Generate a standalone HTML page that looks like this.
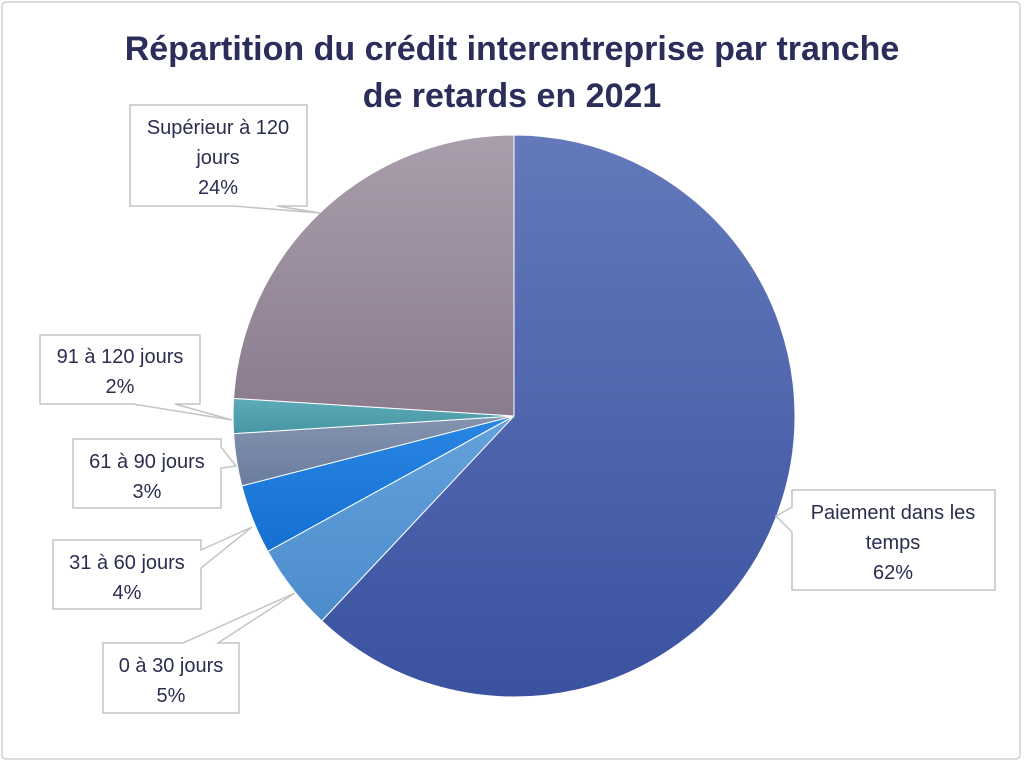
<!DOCTYPE html>
<html><head><meta charset="utf-8"><style>
html,body{margin:0;padding:0;background:#fff;}
svg{display:block;}
text{font-family:"Liberation Sans",sans-serif;}
</style></head><body>
<svg width="1024" height="762" viewBox="0 0 1024 762" xmlns="http://www.w3.org/2000/svg">
<defs>
<linearGradient id="g1" x1="0" y1="0" x2="0" y2="1"><stop offset="0" stop-color="#6479bb"/><stop offset="1" stop-color="#3a52a0"/></linearGradient>
<linearGradient id="g2" x1="0" y1="0" x2="0" y2="1"><stop offset="0" stop-color="#63a2dc"/><stop offset="1" stop-color="#4d8ccc"/></linearGradient>
<linearGradient id="g3" x1="0" y1="0" x2="0" y2="1"><stop offset="0" stop-color="#2a86e4"/><stop offset="1" stop-color="#1470d0"/></linearGradient>
<linearGradient id="g4" x1="0" y1="0" x2="0" y2="1"><stop offset="0" stop-color="#8494b0"/><stop offset="1" stop-color="#6a7c9e"/></linearGradient>
<linearGradient id="g5" x1="0" y1="0" x2="0" y2="1"><stop offset="0" stop-color="#5eaab8"/><stop offset="1" stop-color="#4696a4"/></linearGradient>
<linearGradient id="g6" x1="0" y1="0" x2="0" y2="1"><stop offset="0" stop-color="#a99eac"/><stop offset="1" stop-color="#8a7b8e"/></linearGradient>
</defs>
<rect x="2" y="2" width="1018" height="757" rx="4" fill="#fff" stroke="#d0d0d8" stroke-width="1.5"/>
<text x="512" y="60" text-anchor="middle" font-size="34" font-weight="bold" fill="#2b2e5a">Répartition du crédit interentreprise par tranche</text>
<text x="512" y="107" text-anchor="middle" font-size="34" font-weight="bold" fill="#2b2e5a">de retards en 2021</text>
<g stroke="#fff" stroke-width="1">
<path d="M514,416 L514,135 A281,281 0 1 1 321.7,620.9 Z" fill="url(#g1)"/>
<path d="M514,416 L321.7,620.9 A281,281 0 0 1 267.8,551.4 Z" fill="url(#g2)"/>
<path d="M514,416 L267.8,551.4 A281,281 0 0 1 241.8,485.9 Z" fill="url(#g3)"/>
<path d="M514,416 L241.8,485.9 A281,281 0 0 1 233.6,433.6 Z" fill="url(#g4)"/>
<path d="M514,416 L233.6,433.6 A281,281 0 0 1 233.6,398.4 Z" fill="url(#g5)"/>
<path d="M514,416 L233.6,398.4 A281,281 0 0 1 514,135 Z" fill="url(#g6)"/>
</g>
<g fill="#fff" stroke="#c4c4c4" stroke-width="1.5">
<polygon points="130,105 307,105 307,206 277,206 320,213 233,206 130,206"/>
<polygon points="40,335 200,335 200,404 175,404 232,420 133,404 40,404"/>
<polygon points="73,439 221,439 221,447 236,466 221,468 221,508 73,508"/>
<polygon points="53,540 201,540 201,550 252,527 201,568 201,609 53,609"/>
<polygon points="103,643 183,643 295,593 218,643 239,643 239,713 103,713"/>
<polygon points="792,490 995,490 995,590 792,590 792,532 776,516 792,507"/>
</g>
<g font-size="20" fill="#2b2d4f" text-anchor="middle">
<text x="218" y="134">Supérieur à 120</text>
<text x="218" y="164">jours</text>
<text x="218" y="194">24%</text>
<text x="120" y="363">91 à 120 jours</text>
<text x="120" y="393">2%</text>
<text x="147" y="468">61 à 90 jours</text>
<text x="147" y="498">3%</text>
<text x="127" y="569">31 à 60 jours</text>
<text x="127" y="599">4%</text>
<text x="171" y="672">0 à 30 jours</text>
<text x="171" y="702">5%</text>
<text x="893" y="519">Paiement dans les</text>
<text x="893" y="549">temps</text>
<text x="893" y="579">62%</text>
</g>
</svg>
</body></html>
